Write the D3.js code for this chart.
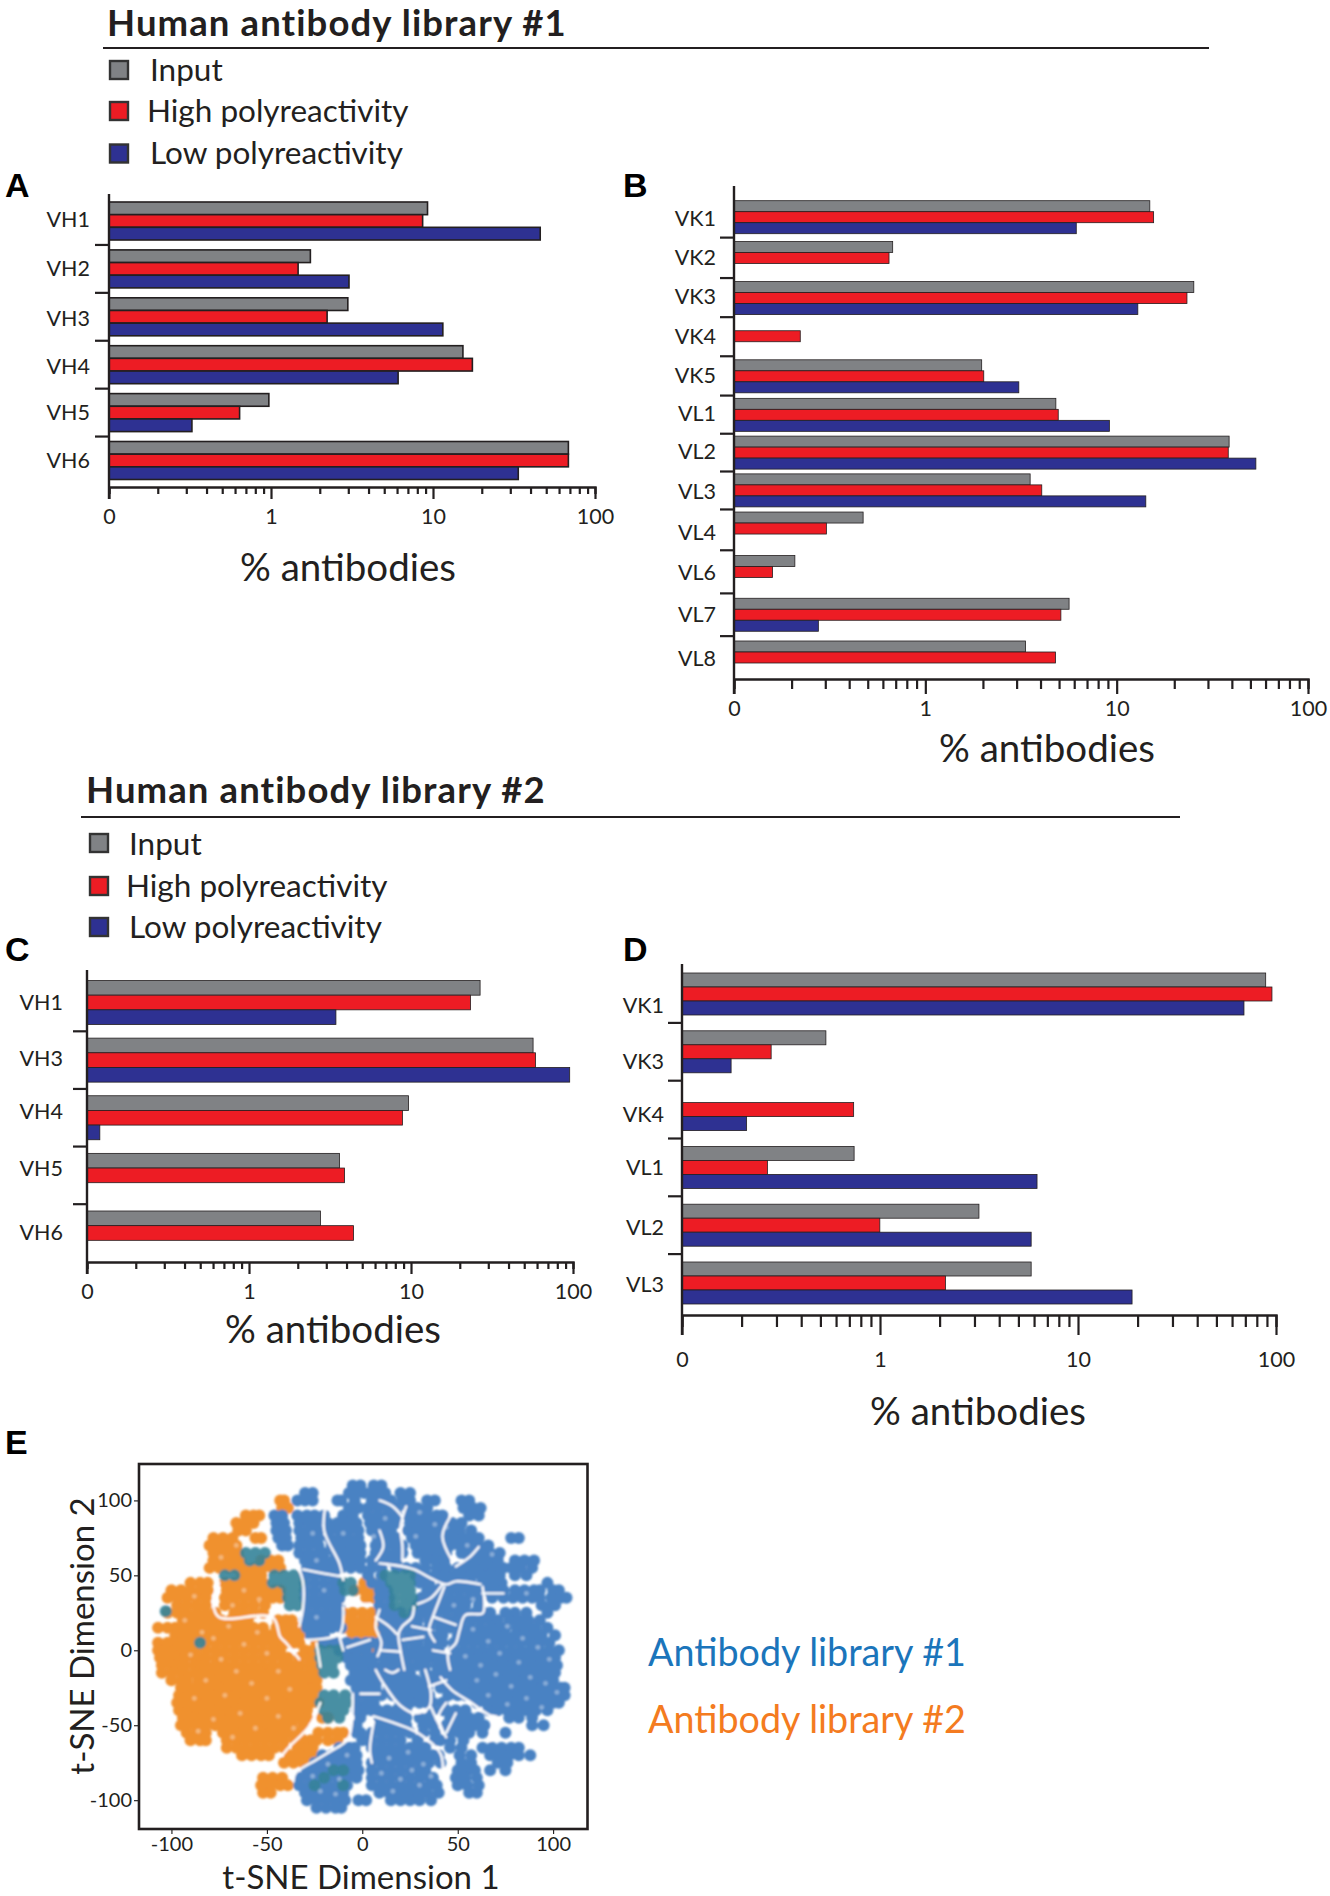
<!DOCTYPE html>
<html>
<head>
<meta charset="utf-8">
<script src="https://cdn.jsdelivr.net/npm/d3@7"></script>
<style>
  body { margin: 0; background: #fff; }
  text { font-family: Lato, "Open Sans", sans-serif; fill: #231f20; }
</style>
</head>
<body>
<svg id="fig" width="1330" height="1896"></svg>
<script>
const seriesNames = ["Input", "High polyreactivity", "Low polyreactivity"];
const seriesColors = ["#808285", "#ed1c24", "#2e3192"];

// panel A
const catsA = ["VH1", "VH2", "VH3", "VH4", "VH5", "VH6"];
const inputA = [9.25, 1.75, 2.98, 15.3, 0.97, 68.5];
const highA = [8.63, 1.47, 2.22, 17.5, 0.64, 68.5];
const lowA = [45.9, 3.03, 11.5, 6.09, 0.325, 33.6];

// panel B
const catsB = ["VK1", "VK2", "VK3", "VK4", "VK5", "VL1", "VL2", "VL3", "VL4", "VL6", "VL7", "VL8"];
const inputB = [14.9, 0.675, 25.3, null, 1.97, 4.81, 38.7, 3.53, 0.473, 0.208, 5.64, 3.34];
const highB = [15.6, 0.646, 23.3, 0.222, 2.02, 4.95, 38.3, 4.06, 0.304, 0.159, 5.11, 4.79];
const lowB = [6.15, null, 12.9, null, 3.08, 9.16, 53.4, 14.2, null, null, 0.276, null];

// panel C
const catsC = ["VH1", "VH3", "VH4", "VH5", "VH6"];
const inputC = [26.7, 56.7, 9.66, 3.62, 2.76];
const highC = [23.3, 58.7, 8.85, 3.89, 4.42];
const lowC = [3.44, 95.4, 0.12, null, null];

// panel D
const catsD = ["VK1", "VK3", "VK4", "VL1", "VL2", "VL3"];
const inputD = [88.7, 0.533, null, 0.74, 3.16, 5.8];
const highD = [95.4, 0.282, 0.736, 0.27, 0.998, 2.14];
const lowD = [68.9, 0.177, 0.212, 6.21, 5.8, 18.75];

const logTicks = [0.1, 0.2, 0.3, 0.4, 0.5, 0.6, 0.7, 0.8, 0.9, 1, 2, 3, 4, 5, 6, 7, 8, 9, 10, 20, 30, 40, 50, 60, 70, 80, 90, 100];
const logLabels = { 0.1: "0", 1: "1", 10: "10", 100: "100" };

// panel E: [tsne2, tsne1, tsne1, ...]
const lib1Rows = [
  [110, -5, -1, 6, 10],
  [105, -30, -26, -7, -3, 1, 4, 8, 12, 20, 25],
  [100, -34, -30, -26, -13, -11, -4, 5, 10, 15, 21, 25, 34, 38, 52, 56],
  [95, -7, -2, 3, 8, 13, 18, 24, 29, 34, 53, 58, 62],
  [90, -46, -42, -34, -29, -25, -20, -10, -5, 3, 8, 13, 18, 24, 29, 34, 39, 42, 56, 61],
  [85, -45, -41, -33, -28, -24, -18, -13, -8, -3, 4, 9, 14, 18, 25, 30, 35, 40, 44, 47, 52],
  [80, -45, -40, -33, -28, -23, -17, -12, -7, -2, 5, 10, 15, 24, 29, 34, 39, 43, 46, 51, 57],
  [75, -44, -40, -32, -27, -23, -17, -12, -7, -2, 8, 13, 18, 26, 31, 36, 41, 44, 48, 53, 58, 61, 78, 82],
  [70, -42, -39, -33, -28, -23, -16, -11, -6, -1, 7, 12, 17, 21, 28, 33, 38, 42, 46, 51, 56, 61, 66],
  [65, -33, -28, -23, -20, -14, -9, -4, -1, 7, 12, 17, 21, 29, 34, 39, 44, 52, 57, 62, 67, 72],
  [60, -30, -25, -20, -15, -10, -5, -1, 5, 10, 15, 18, 33, 38, 43, 56, 61, 66, 71, 80, 85, 90],
  [55, -29, -24, -19, -14, -11, -6, -1, 5, 10, 18, 23, 28, 33, 39, 44, 50, 54, 59, 64, 69, 74, 78, 83, 89],
  [50, -30, -25, -20, -15, 3, 10, 28, 33, 38, 43, 48, 52, 57, 62, 67, 72, 80, 86],
  [45, -30, -25, -20, -15, -12, 5, 10, 30, 35, 42, 47, 52, 57, 63, 68, 73, 97],
  [40, -30, -25, -20, -15, -12, 9, 13, 34, 38, 41, 46, 51, 56, 61, 65, 70, 74, 80, 85, 90, 93, 100, 103],
  [35, -30, -25, -20, -15, -12, 9, 14, 31, 36, 38, 41, 46, 51, 56, 61, 68, 74, 79, 84, 89, 93, 99, 104, 107],
  [30, -29, -24, -19, -14, -12, 9, 14, 29, 34, 38, 42, 47, 52, 54, 61, 94, 99, 101],
  [25, -29, -24, -19, -14, -12, 10, 15, 20, 27, 32, 35, 39, 44, 50, 54, 59, 64, 67, 75, 80, 86, 97],
  [20, -30, -25, -20, -15, -13, 11, 16, 20, 24, 29, 35, 39, 44, 48, 52, 57, 62, 67, 71, 77, 82, 87, 93],
  [15, -29, -24, -20, -16, -11, 11, 16, 20, 24, 29, 35, 41, 46, 50, 52, 57, 62, 67, 72, 75, 81, 86, 91, 97],
  [10, -27, -22, -20, 12, 17, 18, 24, 29, 31, 35, 40, 42, 50, 55, 60, 65, 70, 75, 80, 85, 90, 94, 101],
  [5, -20, -15, -13, -8, -3, 2, 5, 9, 14, 18, 22, 27, 29, 35, 40, 42, 48, 53, 58, 63, 68, 73, 78, 83, 88, 93, 98],
  [0, -12, -8, -3, 2, 9, 14, 19, 22, 27, 29, 33, 38, 40, 48, 53, 58, 63, 68, 73, 78, 83, 88, 93, 98, 103],
  [-5, -8, -3, 2, 6, 11, 16, 20, 24, 29, 31, 35, 40, 42, 46, 51, 56, 61, 66, 71, 76, 81, 86, 91, 96, 101],
  [-10, -6, -1, 4, 6, 11, 15, 18, 24, 29, 33, 39, 42, 44, 49, 54, 59, 64, 69, 74, 79, 84, 89, 94, 99, 102],
  [-15, -4, 1, 6, 10, 16, 21, 25, 33, 39, 42, 46, 51, 56, 61, 66, 71, 76, 81, 86, 91, 96, 101],
  [-20, -6, -1, 4, 8, 13, 18, 23, 28, 33, 37, 42, 46, 50, 55, 60, 65, 70, 75, 80, 85, 90, 95, 100],
  [-25, -3, 2, 7, 14, 19, 24, 29, 34, 41, 46, 50, 54, 59, 64, 69, 74, 79, 84, 89, 94, 99, 104, 106],
  [-30, -3, 2, 7, 10, 16, 21, 26, 31, 35, 45, 50, 54, 57, 62, 67, 72, 77, 82, 87, 92, 97, 102, 106],
  [-35, -3, 2, 6, 20, 25, 30, 34, 37, 42, 60, 65, 70, 75, 80, 85, 90, 95, 100, 103],
  [-40, -3, 1, 5, 8, 13, 18, 23, 37, 42, 44, 49, 54, 66, 71, 76, 81, 86, 91, 97],
  [-45, -1, 9, 14, 19, 23, 30, 35, 46, 51, 56, 61, 77, 82, 89],
  [-50, -3, 9, 14, 19, 23, 32, 37, 44, 49, 54, 59, 64, 89, 95],
  [-55, -3, -1, 5, 10, 15, 20, 25, 32, 38, 46, 51, 56, 63, 75],
  [-60, 0, 3, 5, 10, 15, 20, 29, 38, 41, 46, 53],
  [-65, -12, -7, -4, 5, 10, 15, 20, 25, 30, 33, 46, 52, 63, 68, 73, 78, 82],
  [-70, -21, -16, -11, -6, -3, 7, 12, 17, 22, 27, 32, 37, 40, 51, 57, 67, 72, 77, 82, 88],
  [-75, -25, -20, -15, -10, -5, -3, 5, 10, 15, 20, 25, 30, 35, 41, 52, 57, 71, 76],
  [-80, -29, -24, -19, -14, -9, -4, -2, 5, 10, 15, 20, 25, 30, 33, 50, 55, 59, 67, 75],
  [-85, -33, -28, -23, -18, -13, -8, -3, 5, 10, 15, 20, 25, 30, 35, 37, 49, 54, 60],
  [-90, -33, -28, -23, -18, -13, -8, 5, 10, 15, 20, 25, 30, 35, 39, 50, 55, 61],
  [-95, -30, -25, -20, -15, -10, 9, 14, 19, 24, 29, 34, 40, 56, 60],
  [-100, -29, -24, -19, -14, -9, -2, 2, 15, 20, 25, 30, 36],
  [-105, -24, -19, -14, -11]
];

const lib2Rows = [
  [100, -43, -41],
  [95, -42, -39],
  [90, -61, -57, -54],
  [85, -66, -62, -57],
  [80, -65, -61],
  [75, -78, -73, -68, -56, -53],
  [70, -80, -75, -70, -66],
  [65, -78, -73, -68, -65],
  [60, -78, -73, -68, -64, -53, -48, -44],
  [55, -80, -75, -70, -66, -62, -57, -52, -47, -43],
  [50, -63, -58, -53],
  [45, -90, -85, -81, -72, -67, -62, -57, -52, 1, 5],
  [40, -100, -95, -90, -85, -81, -71, -66, -61, -56, -51, -46, -43, -4, 1, 6],
  [35, -102, -97, -92, -87, -82, -72, -67, -62, -57, -52, -47, -43, 2, 6],
  [30, -97, -92, -87, -82, -72, -67, -62, -57, -51],
  [25, -102, -97, -92, -87, -82, -77, -67, -62, -57, -52, -10, -5, 0, 5],
  [20, -94, -89, -84, -79, -76, -74, -69, -64, -60, -44, -40, -37, -10, -5, 0, 5, 7],
  [15, -107, -102, -98, -95, -90, -86, -82, -77, -72, -67, -62, -57, -52, -45, -41, -36, -33, -9, -4, 1, 6, 8],
  [10, -98, -93, -89, -84, -79, -74, -69, -64, -59, -54, -49, -46, -43, -38, -33, -5, 0, 5, 9],
  [5, -107, -102, -98, -95, -90, -88, -82, -77, -72, -67, -62, -57, -52, -47, -45, -40, -36, -33, -24, -20, -18, 0, 5, 8],
  [0, -107, -103, -98, -94, -90, -88, -82, -77, -72, -67, -62, -57, -52, -47, -43, -30, -26, -6, -1, 4],
  [-5, -106, -102, -98, -93, -88, -86, -82, -77, -72, -67, -62, -57, -52, -47, -42, -39, -33, -28, -26],
  [-10, -105, -100, -97, -93, -88, -85, -82, -77, -72, -67, -62, -57, -52, -47, -42, -37, -33, -28, -26],
  [-15, -105, -100, -95, -93, -88, -83, -78, -73, -68, -63, -58, -53, -48, -43, -38, -35, -33, -28, -25],
  [-20, -100, -95, -92, -86, -81, -76, -71, -66, -61, -56, -51, -46, -41, -36, -31, -26, -24],
  [-25, -95, -90, -85, -80, -75, -70, -65, -60, -55, -50, -45, -40, -35, -30, -26, -24],
  [-30, -96, -91, -86, -81, -76, -71, -66, -61, -56, -51, -46, -41, -36, -31, -26],
  [-35, -97, -92, -87, -82, -77, -72, -67, -62, -57, -52, -47, -42, -37, -32, -27, -23],
  [-40, -96, -91, -86, -81, -76, -71, -66, -61, -56, -51, -46, -41, -36, -31, -29],
  [-45, -94, -89, -84, -79, -74, -69, -64, -59, -54, -49, -44, -39, -34, -29, -21, -18],
  [-50, -95, -92, -87, -82, -77, -72, -67, -62, -57, -52, -47, -42, -37, -31],
  [-55, -92, -87, -82, -73, -68, -63, -58, -53, -48, -43, -38, -33, -23, -18, -13, -10],
  [-60, -90, -85, -82, -71, -66, -61, -56, -51, -46, -41, -35, -31, -27, -24, -18, -13],
  [-65, -71, -66, -61, -56, -51, -46, -41, -34, -29, -26],
  [-70, -63, -58, -53, -49, -38, -33, -28, -26],
  [-75, -41, -36, -31, -29],
  [-85, -52, -47, -42],
  [-90, -53, -48, -43, -39],
  [-95, -52, -48]
];

// spots where both libraries sit on top of each other
const mixedRows = [
  [65, -61, -56, -51],
  [60, -59, -54],
  [50, -72, -67, -46, -41, -36, 12, 17, 22, 25],
  [45, -47, -42, -37, -33, -10, -6, 15, 20, 25],
  [40, -39, -35, -9, -5, 17, 22, 25],
  [35, -39, -35, 17, 22, 26],
  [30, -38, -34, 17, 22, 26],
  [26, -103],
  [25, 22],
  [5, -85],
  [0, -22, -17, -13],
  [-5, -22, -17, -13],
  [-10, -21, -16],
  [-15, -20, -15],
  [-30, -20, -15, -9],
  [-35, -22, -17, -12, -8],
  [-40, -20, -15, -10],
  [-45, -18, -12],
  [-80, -15, -10],
  [-85, -20],
  [-90, -25, -10]
];

// empty lanes between the t-SNE clusters, as [tsne1, tsne2] traces
const clusterGaps = [
  [[9, 58], [16, 57], [27, 54], [36, 48], [44, 44], [49, 46], [62, 44]],
  [[43, 42.5], [40, 32.5], [37, 22.4], [35, 13.5], [38, 5.8]],
  [[63, 42.5], [64, 31], [63, 24.7], [54, 23.5], [51, 13.5], [49, 4.7], [45, -1], [46, -13]],
  [[9, 80], [11, 69], [7, 60]],
  [[27, 29], [26, 22], [21, 16], [19, 11], [20, 0], [22, -13]],
  [[7, 22], [14, 16], [18, 11]],
  [[9, 27], [7, 16], [10, 5], [8, -4]],
  [[33, -13], [36, -29], [35, -38], [28, -42], [20, -37], [11, -22], [7, -13]],
  [[41, -18], [47, -26.5], [56, -34], [65, -42], [72, -46.5]],
  [[36, -38], [40, -49], [44, -58]],
  [[6, -44], [18, -49], [29, -55], [41, -69], [42, -84]],
  [[6, -48], [4, -66], [5, -75]],
  [[-19, 98], [-20, 80], [-12, 58], [-10, 47]],
  [[-33, 54], [-31, 45], [-31, 29], [-33, 16]],
  [[-75, 45], [-78, 31], [-75, 22], [-47, 22], [-43, 9], [-40, 5], [-33, -6]],
  [[-29, 7], [-12, 11], [-10, 29]],
  [[-10, 31], [4, 31]],
  [[-22, -35], [-28, -51], [-38, -64], [-42, -70]],
  [[-12, -64], [-24, -73], [-35, -82], [-36, -87]],
  [[-5, -29], [-7, -58], [-12, -64]],
  [[9, 100], [16, 96], [21, 89]],
  [[23, 96], [20, 82], [21, 70], [21, 60]],
  [[46, 89], [42, 76], [47, 60]],
  [[61, 69], [56, 62], [49, 56]],
  [[26, 16], [36, 13.5]],
  [[21, 7], [32, 9]],
  [[10, 0], [20, -1]],
  [[37, 0], [46, -2]],
  [[38, 22], [49, 17]],
  [[29, 31], [36, 35], [42, 44]],
  [[63, 38], [74, 38]],
  [[-1, -29], [9, -29]],
  [[12, -13], [16, -15], [19, -13]],
  [[35, -24], [44, -20]],
  [[44, -35], [40, -44], [42, -53]],
  [[49, -42], [44, -55]],
  [[70, -44], [67, -60]],
  [[-31, 54], [-19, 51], [-10, 49]],
  [[-12, 9], [-10, 0]],
  [[-8, 2], [4, 7]],
  [[-24, 5], [-22, -11]]
];

// pale flecks inside the dense clusters, [tsne1, tsne2]
const clusterFlecks = [
  [-88, 36], [-93, 20], [-84, 12], [-90, -3], [-78, 8], [-70, 16], [-62, 4], [-74, -6], [-55, 12], [-50, -2],
  [-66, -14], [-82, -20], [-58, -22], [-44, -14], [-72, -30], [-88, -32], [-50, -32], [-38, -26], [-64, -42], [-78, -46],
  [-44, -44], [-56, -52], [-68, -58], [-86, -54], [-36, -52], [-62, 40], [-68, 30], [-54, 34], [-74, 62], [-66, 70],
  [58, 14], [66, 6], [76, 16], [84, 8], [54, -4], [62, -10], [72, -2], [82, -8], [92, 2], [98, -6],
  [60, -20], [70, -16], [78, -24], [88, -18], [96, -22], [66, -30], [76, -36], [86, -32], [94, -38], [102, -28],
  [14, -72], [24, -68], [32, -76], [10, -82], [20, -86], [30, -90], [16, -94], [26, -80], [36, -84],
  [-26, -84], [-18, -76], [-12, -86], [-22, -94], [-8, -70], [-14, -96],
  [30, 92], [38, 84], [28, 76], [12, 88], [6, 76], [-10, 78], [-26, 78], [-24, 60], [-20, 40], [-24, 22],
  [55, 70], [44, 82], [68, 64], [58, 34], [48, 30], [86, 38]
];

const tsneXTicks = [-100, -50, 0, 50, 100];
const tsneYTicks = [-100, -50, 0, 50, 100];

const svg = d3.select("#fig");

svg.append("defs").append("filter").attr("id", "soft")
  .append("feGaussianBlur").attr("stdDeviation", 0.8);

function rowsToPoints(rows) {
  return rows.flatMap(r => r.slice(1).map(x => ({ x: x, y: r[0] })));
}

function drawHeader(title, o) {
  svg.append("text").attr("x", o.titleX).attr("y", o.titleY)
    .style("font-size", "36.5px").style("font-weight", 700).style("letter-spacing", "1.1px").text(title);
  svg.append("line").attr("x1", o.ruleX1).attr("x2", o.ruleX2).attr("y1", o.ruleY).attr("y2", o.ruleY)
    .attr("stroke", "#231f20").attr("stroke-width", 2);

  seriesNames.forEach((name, i) => {
    svg.append("rect").attr("x", o.boxX).attr("y", o.boxY[i] - 9).attr("width", 18).attr("height", 18)
      .attr("fill", seriesColors[i]).attr("stroke", "#333").attr("stroke-width", 2.4);
    svg.append("text").attr("x", o.textX[i]).attr("y", o.textY[i])
      .style("font-size", "31.5px").text(name);
  });
}

function drawBars(cats, values, o) {
  const g = svg.append("g");

  const x = d3.scaleLog().domain([0.1, 100]).range([o.x0, o.x1]);

  // row positions, rows can be spaced unevenly
  const steps = o.rowSteps || cats.slice(1).map(() => 1);
  const cum = [0, ...d3.cumsum(steps)];
  const rowPos = d3.scaleLinear().domain([0, cum[cum.length - 1]]).range([o.firstTop, o.lastTop]);
  const rowTop = d3.scaleOrdinal(cats, cum.map(rowPos));
  const rowMid = d3.scaleOrdinal(cats, cum.map(c => rowPos(c) + o.groupH / 2));
  const inner = d3.scaleBand().domain(seriesNames).range([0, o.groupH]);

  values.forEach((vals, s) => {
    g.append("g").selectAll("rect")
      .data(vals.map((v, i) => ({ cat: cats[i], v: v })).filter(d => d.v != null))
      .join("rect")
      .attr("x", o.x0)
      .attr("y", d => rowTop(d.cat) + inner(seriesNames[s]))
      .attr("width", d => x(d.v) - o.x0)
      .attr("height", inner.bandwidth())
      .attr("fill", seriesColors[s])
      .attr("stroke", "#231f20")
      .attr("stroke-width", o.barStroke);
  });

  // x axis, 0 stands in for the bottom of the log scale
  const xAxis = g.append("g")
    .attr("transform", `translate(0, ${o.axisY})`)
    .call(d3.axisBottom(x).tickValues(logTicks).tickSize(o.minor).tickPadding(0)
      .tickFormat(d => logLabels[d] || ""));
  xAxis.selectAll("line").attr("stroke", "#231f20").attr("stroke-width", 2.2)
    .attr("y2", d => (logLabels[d] ? o.major : o.minor));
  xAxis.selectAll("text").attr("y", o.labelDy).attr("dy", 0)
    .style("font-size", "21.5px");
  xAxis.select(".domain").attr("stroke", "#231f20").attr("stroke-width", 2.4);

  // y axis, labels at the row middle, separators between rows
  const yAxis = g.append("g")
    .attr("transform", `translate(${o.x0}, 0)`)
    .call(d3.axisLeft(rowMid).tickSize(0).tickPadding(o.catPad));
  yAxis.select(".domain").remove();
  yAxis.selectAll("text").style("font-size", "21.5px")
    .attr("y", (d, i) => (o.catNudge ? o.catNudge[i] : 0));

  g.append("line").attr("x1", o.x0).attr("x2", o.x0).attr("y1", o.axisTop).attr("y2", o.axisY + o.major)
    .attr("stroke", "#231f20").attr("stroke-width", 2.4);

  g.selectAll("line.sep")
    .data(d3.pairs(cats))
    .join("line")
    .attr("class", "sep")
    .attr("x1", o.x0 - 14).attr("x2", o.x0)
    .attr("y1", d => (rowTop(d[0]) + o.groupH + rowTop(d[1])) / 2)
    .attr("y2", d => (rowTop(d[0]) + o.groupH + rowTop(d[1])) / 2)
    .attr("stroke", "#231f20").attr("stroke-width", 2.2);

  svg.append("text").attr("x", o.titleX).attr("y", o.titleY).attr("text-anchor", "middle")
    .style("font-size", "38.5px").text("% antibodies");
}

function drawLetter(t, x, y) {
  svg.append("text").attr("x", x).attr("y", y)
    .style("font-family", '"Liberation Sans", sans-serif')
    .style("font-size", "34px").style("font-weight", 700).style("fill", "#000").text(t);
}

drawHeader("Human antibody library #1", {
  titleX: 107, titleY: 36, ruleX1: 103, ruleX2: 1209, ruleY: 48, boxX: 110,
  boxY: [70, 111, 153.5], textX: [150, 147, 150], textY: [81, 122, 164]
});
drawHeader("Human antibody library #2", {
  titleX: 86, titleY: 803, ruleX1: 81, ruleX2: 1180, ruleY: 817, boxX: 90,
  boxY: [843, 886, 927], textX: [129, 126, 129], textY: [855, 897, 938]
});

drawLetter("A", 5, 197);
drawLetter("B", 623, 197);
drawLetter("C", 5, 961);
drawLetter("D", 623, 961);
drawLetter("E", 5, 1454);

drawBars(catsA, [inputA, highA, lowA], {
  x0: 109, x1: 595, axisY: 487, axisTop: 194, firstTop: 202, lastTop: 441.5, groupH: 38,
  catNudge: [-1, 0, 2, 2, 0, 0],
  major: 12, minor: 7, labelDy: 37, catPad: 19, barStroke: 1.6, titleX: 348, titleY: 581
});
drawBars(catsB, [inputB, highB, lowB], {
  x0: 734, x1: 1308, axisY: 679, axisTop: 186, firstTop: 200.7, lastTop: 641, groupH: 33,
  rowSteps: [107, 105, 100, 105, 101, 99, 99, 100, 114, 112, 112],
  catNudge: [1, 0, -1, 0, -1, -1, -1, 1, 4, 1, 0, 1],
  major: 15, minor: 10, labelDy: 37, catPad: 18, barStroke: 0.8, titleX: 1047, titleY: 762
});
drawBars(catsC, [inputC, highC, lowC], {
  x0: 87, x1: 573, axisY: 1262, axisTop: 970, firstTop: 980.5, lastTop: 1211, groupH: 44,
  catNudge: [0, -2, -6, -7, 0],
  major: 12, minor: 7, labelDy: 37, catPad: 24, barStroke: 0.8, titleX: 333, titleY: 1343
});
drawBars(catsD, [inputD, highD, lowD], {
  x0: 682, x1: 1276, axisY: 1315, axisTop: 964, firstTop: 973, lastTop: 1262, groupH: 42,
  catNudge: [12, 10, 5, 0, 2, 2],
  major: 20, minor: 12, labelDy: 52, catPad: 18, barStroke: 0.8, titleX: 978, titleY: 1425
});

// panel E
const ex = d3.scaleLinear().domain([-117, 118]).range([139, 587.5]);
const ey = d3.scaleLinear().domain([-119.2, 124.3]).range([1829, 1464]);

const dots = svg.append("g").attr("filter", "url(#soft)");
[[lib2Rows, "#f0912f", 1], [lib1Rows, "#4a82c3", 1], [mixedRows, "#35839a", 0.9]].forEach(([rows, color, alpha]) => {
  dots.append("g").attr("opacity", alpha).selectAll("circle")
    .data(rowsToPoints(rows))
    .join("circle")
    .attr("cx", d => ex(d.x))
    .attr("cy", d => ey(d.y))
    .attr("r", 6)
    .attr("fill", color);
});

const gapLine = d3.line().x(d => ex(d[0])).y(d => ey(d[1])).curve(d3.curveCatmullRom);
dots.append("g").selectAll("path")
  .data(clusterGaps)
  .join("path")
  .attr("d", gapLine)
  .attr("fill", "none")
  .attr("stroke", "#fff")
  .attr("stroke-width", 2.4)
  .attr("stroke-linecap", "round");

dots.append("g").selectAll("circle")
  .data(clusterFlecks)
  .join("circle")
  .attr("cx", d => ex(d[0]))
  .attr("cy", d => ey(d[1]))
  .attr("r", 2.4)
  .attr("fill", "#fff")
  .attr("fill-opacity", 0.35);

const exAxis = svg.append("g").attr("transform", "translate(0, 1829)")
  .call(d3.axisBottom(ex).tickValues(tsneXTicks).tickSize(5).tickPadding(3).tickFormat(String));
const eyAxis = svg.append("g").attr("transform", "translate(139, 0)")
  .call(d3.axisLeft(ey).tickValues(tsneYTicks).tickSize(5).tickPadding(2).tickFormat(String));
exAxis.selectAll("text").style("font-size", "20px");
eyAxis.selectAll("text").style("font-size", "20px");
exAxis.select(".domain").remove();
eyAxis.select(".domain").remove();

svg.append("rect").attr("x", 139).attr("y", 1464).attr("width", 448.5).attr("height", 365)
  .attr("fill", "none").attr("stroke", "#231f20").attr("stroke-width", 2.6);

svg.append("text").attr("x", 361).attr("y", 1889).attr("text-anchor", "middle")
  .style("font-size", "33px").text("t-SNE Dimension 1");
svg.append("text").attr("transform", "translate(94, 1636) rotate(-90)").attr("text-anchor", "middle")
  .style("font-size", "33px").text("t-SNE Dimension 2");

svg.append("text").attr("x", 648).attr("y", 1666).style("font-size", "37.7px").style("fill", "#1b75bb").text("Antibody library #1");
svg.append("text").attr("x", 648).attr("y", 1733).style("font-size", "37.7px").style("fill", "#f47b20").text("Antibody library #2");
</script>
</body>
</html>
